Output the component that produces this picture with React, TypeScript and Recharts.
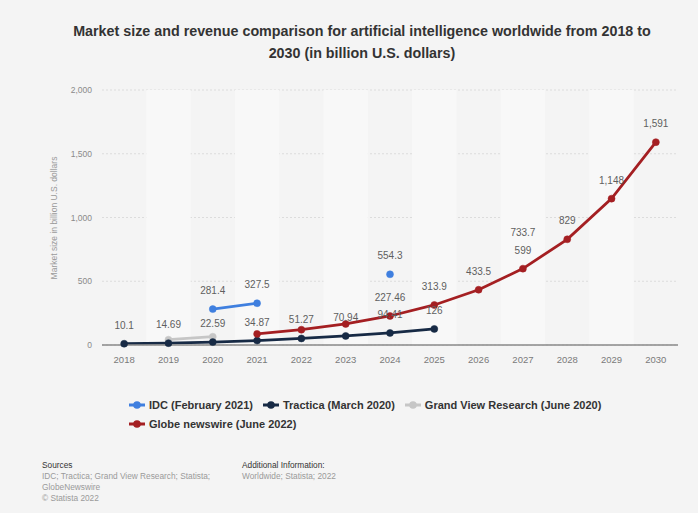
import React from "react";
import {
  CartesianGrid,
  ComposedChart,
  LabelList,
  Line,
  ReferenceArea,
  XAxis,
  YAxis,
} from "recharts";

const years = ["2018", "2019", "2020", "2021", "2022", "2023", "2024", "2025", "2026", "2027", "2028", "2029", "2030"];
const idc = [null, null, 281.4, 327.5, null, null, 554.3, null, null, null, null, null, null];
const tractica = [10.1, 14.69, 22.59, 34.87, 51.27, 70.94, 94.41, 126, null, null, null, null, null];
const grandView = [null, 42, 65, null, null, null, null, null, null, null, null, null, null];
const globe = [null, null, null, 87, 120, 165, 227.46, 313.9, 433.5, 599, 829, 1148, 1591];
// label shown on the chart without a visible point
const extraLabel = [null, null, null, null, null, null, null, null, null, 733.7, null, null, null];
const globeLabelFrom = 2024;
const yTicks = [0, 500, 1000, 1500, 2000];
const shadedYears = ["2019", "2021", "2023", "2025", "2027", "2029"];

const series = [
  { key: "idc", name: "IDC (February 2021)", color: "#3f7fdf" },
  { key: "tractica", name: "Tractica (March 2020)", color: "#172a45" },
  { key: "grandView", name: "Grand View Research (June 2020)", color: "#c6c6c6" },
  { key: "globe", name: "Globe newswire (June 2022)", color: "#a41f22" },
];

const data = years.map((year, i) => ({
  year,
  idc: idc[i],
  tractica: tractica[i],
  grandView: grandView[i],
  globe: globe[i],
  globeLabel: Number(year) >= globeLabelFrom ? globe[i] : null,
  extra: extraLabel[i],
}));

const font = "'Liberation Sans', Arial, Helvetica, sans-serif";
const fmt = (v: any) => (v == null ? "" : Number(v).toLocaleString("en-US"));
const labelProps = {
  position: "top" as const,
  offset: 15,
  fontSize: 10,
  fill: "#5f5f5f",
  formatter: fmt,
};
const dotStyle = (color: string) => ({ r: 3.5, fill: color, stroke: color, strokeWidth: 0.5 });

function LegendIcon({ color }: { color: string }) {
  return (
    <svg width={16} height={10} style={{ marginRight: 4 }}>
      <line x1={0} y1={5} x2={16} y2={5} stroke={color} strokeWidth={3} />
      <circle cx={8} cy={5} r={3.8} fill={color} />
    </svg>
  );
}

export default function App() {
  return (
    <div
      style={{
        position: "absolute",
        left: 0,
        top: 0,
        width: 698,
        height: 513,
        background: "#f4f4f4",
        fontFamily: font,
        overflow: "hidden",
      }}
    >
      <div
        style={{
          position: "absolute",
          top: 20,
          left: 20,
          width: 684,
          textAlign: "center",
          fontSize: 14.3,
          fontWeight: 700,
          color: "#333",
          lineHeight: "22px",
        }}
      >
        Market size and revenue comparison for artificial intelligence worldwide from 2018 to
        <br />
        2030 (in billion U.S. dollars)
      </div>

      <div
        style={{
          position: "absolute",
          left: 54,
          top: 218,
          transform: "translate(-50%, -50%) rotate(-90deg)",
          whiteSpace: "nowrap",
          fontSize: 8.5,
          color: "#9a9a9a",
        }}
      >
        Market size in billion U.S. dollars
      </div>

      <div style={{ position: "absolute", left: 0, top: 0 }}>
        <ComposedChart
          width={698}
          height={400}
          data={data}
          margin={{ top: 90, right: 20, bottom: 25, left: 42 }}
          style={{ fontFamily: font }}
        >
          {shadedYears.map((y) => (
            <ReferenceArea key={y} x1={y} x2={y} fill="#f8f8f8" fillOpacity={1} stroke="none" />
          ))}
          <CartesianGrid vertical={false} stroke="#dcdcdc" strokeDasharray="2 2" />
          <XAxis
            dataKey="year"
            scale="band"
            tick={{ fill: "#7a7a7a", fontSize: 9.5 }}
            tickLine={false}
            axisLine={{ stroke: "#8a8a8a", strokeWidth: 1.5 }}
            tickMargin={5}
          />
          <YAxis
            width={60}
            domain={[0, 2000]}
            ticks={yTicks}
            tickFormatter={fmt}
            tick={{ fill: "#8a8a8a", fontSize: 8.5 }}
            tickLine={false}
            axisLine={false}
            tickMargin={4}
          />
          <Line
            dataKey="grandView"
            stroke={series[2].color}
            strokeWidth={2.8}
            dot={dotStyle(series[2].color)}
            isAnimationActive={false}
          />
          <Line
            dataKey="tractica"
            stroke={series[1].color}
            strokeWidth={2.8}
            dot={dotStyle(series[1].color)}
            isAnimationActive={false}
          >
            <LabelList dataKey="tractica" {...labelProps} />
          </Line>
          <Line
            dataKey="globe"
            stroke={series[3].color}
            strokeWidth={2.8}
            dot={dotStyle(series[3].color)}
            isAnimationActive={false}
          >
            <LabelList dataKey="globeLabel" {...labelProps} />
          </Line>
          <Line
            dataKey="idc"
            stroke={series[0].color}
            strokeWidth={2.8}
            dot={dotStyle(series[0].color)}
            isAnimationActive={false}
          >
            <LabelList dataKey="idc" {...labelProps} />
          </Line>
          <Line
            dataKey="extra"
            stroke="none"
            dot={false}
            activeDot={false}
            legendType="none"
            isAnimationActive={false}
          >
            <LabelList dataKey="extra" {...labelProps} />
          </Line>
        </ComposedChart>
      </div>

      <div
        style={{
          position: "absolute",
          left: 129,
          top: 398,
          width: 500,
          display: "flex",
          flexWrap: "wrap",
          rowGap: 6,
          columnGap: 10,
          fontSize: 11,
          fontWeight: 700,
          color: "#333",
        }}
      >
        {series.map((s) => (
          <div key={s.key} style={{ display: "flex", alignItems: "center", height: 13 }}>
            <LegendIcon color={s.color} />
            {s.name}
          </div>
        ))}
      </div>

      <div style={{ position: "absolute", left: 42, top: 460, fontSize: 8.3, lineHeight: "11px", color: "#9a9a9a" }}>
        <div style={{ color: "#333" }}>Sources</div>
        <div>IDC; Tractica; Grand View Research; Statista;</div>
        <div>GlobeNewswire</div>
        <div>© Statista 2022</div>
      </div>
      <div style={{ position: "absolute", left: 242, top: 460, fontSize: 8.3, lineHeight: "11px", color: "#9a9a9a" }}>
        <div style={{ color: "#333" }}>Additional Information:</div>
        <div>Worldwide; Statista; 2022</div>
      </div>
    </div>
  );
}
